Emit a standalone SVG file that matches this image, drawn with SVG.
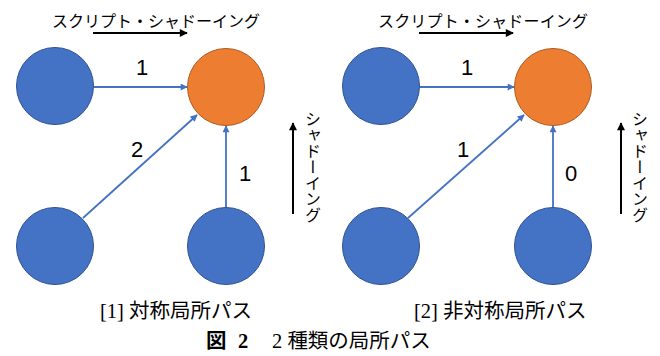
<svg xmlns="http://www.w3.org/2000/svg" width="660" height="356" viewBox="0 0 660 356">
<style>
.b{fill:#4472C4;stroke:#2F528F;stroke-width:1}
.o{fill:#ED7D31;stroke:#AE5A21;stroke-width:1}
.c{stroke:#4472C4;stroke-width:1.8;fill:none;marker-end:url(#ab)}
.k{stroke:#000;stroke-width:2;fill:none;marker-end:url(#ak)}
.n{font-family:"Liberation Sans",Arial,sans-serif;font-size:22px;fill:#000;text-anchor:middle}
.j{font-family:"Noto Sans CJK JP","Noto Sans",sans-serif;font-size:16px;fill:#000}
.v{font-family:"Noto Sans CJK JP","Noto Sans",sans-serif;font-size:16px;fill:#000;writing-mode:vertical-rl}
.s{font-family:"Liberation Serif","Noto Sans CJK JP",serif;font-size:20.5px;fill:#000}
</style>
<defs>
<marker id="ab" viewBox="0 0 10 10" refX="9" refY="5" markerWidth="8" markerHeight="7" markerUnits="userSpaceOnUse" orient="auto"><path d="M0,0L10,5L0,10z" fill="#4472C4"/></marker>
<marker id="ak" viewBox="0 0 10 10" refX="9" refY="5" markerWidth="9" markerHeight="8" markerUnits="userSpaceOnUse" orient="auto"><path d="M0,0L10,5L0,10z" fill="#000"/></marker>
</defs>
<g id="connectors">
<line class="c" x1="94" y1="87" x2="187" y2="87"/>
<line class="c" x1="83" y1="218" x2="197" y2="115"/>
<line class="c" x1="226" y1="207" x2="226" y2="126"/>
<line class="c" x1="420" y1="87" x2="514" y2="87"/>
<line class="c" x1="408" y1="218" x2="524" y2="115"/>
<line class="c" x1="553" y1="207" x2="553" y2="126"/>
<text class="n" x="142" y="75">1</text>
<text class="n" x="137" y="157">2</text>
<text class="n" x="245" y="181">1</text>
<text class="n" x="467" y="75">1</text>
<text class="n" x="463" y="157">1</text>
<text class="n" x="571" y="181">0</text>
</g>
<g id="n1"><circle class="b" cx="55" cy="86" r="38.5"/></g>
<g id="n2"><circle class="o" cx="226" cy="87" r="38.5"/></g>
<g id="n3"><circle class="b" cx="55" cy="246" r="38.5"/></g>
<g id="n4"><circle class="b" cx="226" cy="246" r="38.5"/></g>
<g id="n5"><circle class="b" cx="381" cy="86" r="38.5"/></g>
<g id="n6"><circle class="o" cx="553" cy="87" r="38.5"/></g>
<g id="n7"><circle class="b" cx="381" cy="246" r="38.5"/></g>
<g id="n8"><circle class="b" cx="553" cy="246" r="38.5"/></g>
<g id="dir">
<text class="j" x="52" y="27" textLength="208">スクリプト・シャドーイング</text>
<line class="k" x1="93" y1="33" x2="187" y2="33"/>
<line class="k" x1="293" y1="214" x2="293" y2="123"/>
<text class="v" x="313" y="111">シャドーイング</text>
<text class="j" x="378" y="27" textLength="210">スクリプト・シャドーイング</text>
<line class="k" x1="419" y1="33" x2="513" y2="33"/>
<line class="k" x1="621" y1="214" x2="621" y2="123"/>
<text class="v" x="640" y="111">シャドーイング</text>
</g>
<g id="captions">
<text class="s" x="100" y="318">[1] 対称局所パス</text>
<text class="s" x="414" y="318">[2] 非対称局所パス</text>
<text class="s" x="206" y="348" font-weight="bold">図</text>
<text class="s" x="238" y="348" font-weight="bold">2</text>
<text class="s" x="272" y="348">2 種類の局所パス</text>
</g>
</svg>
